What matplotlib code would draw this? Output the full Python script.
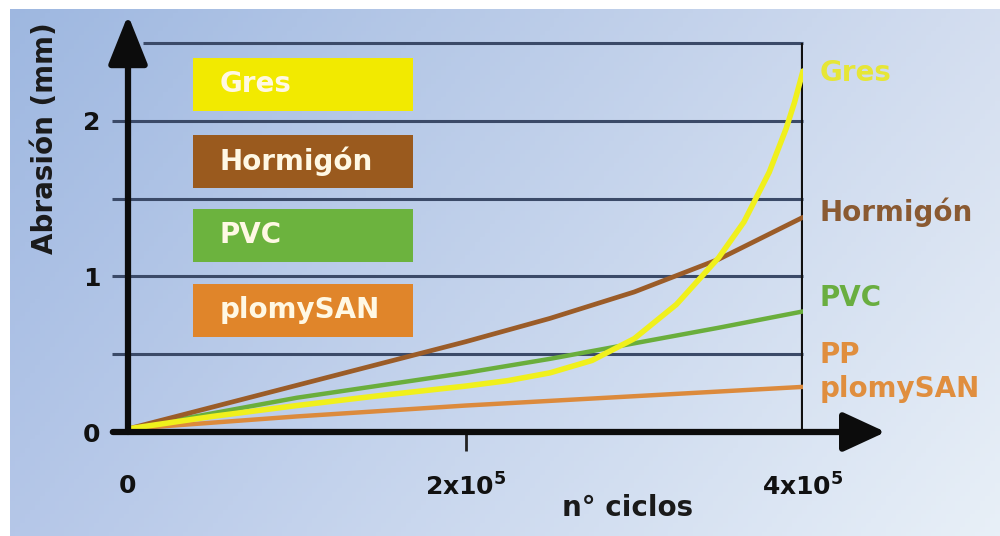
import numpy as np
import matplotlib
matplotlib.use("Agg")
import matplotlib.pyplot as plt
from matplotlib.patches import Rectangle

# x in units of 1e5 cycles, abrasion in mm
x_lin = [0, 0.5, 1.0, 1.5, 2.0, 2.5, 3.0, 3.5, 4.0]
hormigon = [0.02, 0.16, 0.30, 0.44, 0.58, 0.73, 0.90, 1.11, 1.38]
pvc = [0.02, 0.12, 0.22, 0.30, 0.38, 0.47, 0.57, 0.67, 0.775]
plomysan = [0.02, 0.06, 0.10, 0.135, 0.17, 0.20, 0.23, 0.26, 0.29]

x_gres = [0, 0.5, 1.0, 1.5, 2.0, 2.25, 2.5, 2.75, 3.0, 3.25, 3.5, 3.65, 3.8, 3.9, 3.95, 4.0]
gres = [0.02, 0.10, 0.17, 0.235, 0.295, 0.33, 0.38, 0.46, 0.60, 0.82, 1.12, 1.35, 1.67, 1.95, 2.12, 2.32]

names = ["Gres", "Hormigón", "PVC", "plomySAN"]
right_names = ["Gres", "Hormigón", "PVC", "PP\nplomySAN"]
box_colors = ["#f2ea00", "#9a5a1e", "#6cb33e", "#e0852a"]
line_colors = ["#f0f01c", "#9b5c28", "#6aae3c", "#dc8a3c"]
label_colors = ["#e6e636", "#8a5a32", "#6aae40", "#e08e3e"]

y_ticks = [0, 1, 2]
grid_levels = [0.5, 1.0, 1.5, 2.0]
x_ticks = [0, 2, 4]
x_ticklabels = ["0", "2x10$^{\\mathbf{5}}$", "4x10$^{\\mathbf{5}}$"]

W, H = 1000, 536
fig = plt.figure(figsize=(W / 100, H / 100), dpi=100)
fig.patch.set_facecolor("white")

# background gradient
bg = fig.add_axes([10 / W, 0, 1 - 10 / W, 1 - 9 / H], zorder=-5)
gx = np.linspace(0, 1, 200)
gy = np.linspace(0, 1, 120)
GX, GY = np.meshgrid(gx, gy)
tl = np.array([0.62, 0.72, 0.88])
tr = np.array([0.83, 0.87, 0.94])
bl = np.array([0.71, 0.78, 0.91])
br = np.array([0.91, 0.94, 0.97])
img = ((1 - GX)[..., None] * (1 - GY)[..., None] * tl + GX[..., None] * (1 - GY)[..., None] * tr
       + (1 - GX)[..., None] * GY[..., None] * bl + GX[..., None] * GY[..., None] * br)
bg.imshow(img, aspect="auto", extent=[0, 1, 0, 1], origin="upper")
bg.axis("off")

# main axes: x from px 128 to 803, y 0 at px 432, 2.5 at px 43
ax = fig.add_axes([128 / W, 1 - 432 / H, 675 / W, (432 - 43) / H])
ax.patch.set_alpha(0)
ax.set_xlim(0, 4)
ax.set_ylim(0, 2.5)
for s in ax.spines.values():
    s.set_visible(False)

grid_col = "#3b4a68"
ax.hlines(grid_levels, -0.095, 4, color=grid_col, lw=2.2, clip_on=False, zorder=1)
ax.hlines([2.5], 0.09, 4, color=grid_col, lw=2.2, clip_on=False, zorder=1)
ax.axvline(4, color="#101010", lw=3, zorder=2)

ax.plot(x_lin, plomysan, color=line_colors[3], lw=3.2, zorder=3, solid_capstyle="round")
ax.plot(x_lin, pvc, color=line_colors[2], lw=3.2, zorder=3, solid_capstyle="round")
ax.plot(x_lin, hormigon, color=line_colors[1], lw=3.4, zorder=3, solid_capstyle="round")
ax.plot(x_gres, gres, color=line_colors[0], lw=4, zorder=4, solid_capstyle="round",
        solid_joinstyle="round")

# axis arrows
ax.annotate("", xy=(0, 2.68), xytext=(0, 0), annotation_clip=False,
            arrowprops=dict(arrowstyle="-|>,head_length=1.5,head_width=0.6", lw=4.5,
                            color="#0c0c0c", shrinkA=0, shrinkB=0, mutation_scale=20), zorder=6)
ax.annotate("", xy=(4.49, 0), xytext=(-0.09, 0), annotation_clip=False,
            arrowprops=dict(arrowstyle="-|>,head_length=1.3,head_width=0.6", lw=4.5,
                            color="#0c0c0c", shrinkA=0, shrinkB=0, mutation_scale=20), zorder=6)

ax.set_yticks(y_ticks)
ax.set_yticklabels([str(v) for v in y_ticks], fontsize=18, fontweight="bold", color="#111111")
ax.tick_params(axis="y", length=0, pad=20)
ax.set_xticks(x_ticks)
ax.set_xticklabels(x_ticklabels, fontsize=18, fontweight="bold", color="#111111")
ax.tick_params(axis="x", length=14, width=2, color="#222222", direction="out", pad=16)
xt = ax.xaxis.get_major_ticks()
xt[0].tick1line.set_visible(False)
xt[2].tick1line.set_visible(False)

fig.text(628 / W, 1 - 508 / H, "n° ciclos", fontsize=20, fontweight="bold", color="#1a1a1a",
         ha="center", va="center")
fig.text(45 / W, 1 - 138 / H, "Abrasión (mm)", fontsize=20, fontweight="bold", color="#1a1a1a",
         rotation=90, ha="center", va="center")

# legend boxes
box_centers = [84, 161, 235, 310]
for name, col, yc in zip(names, box_colors, box_centers):
    fig.patches.append(Rectangle((193 / W, 1 - (yc + 26.5) / H), 220 / W, 53 / H,
                                 transform=fig.transFigure, facecolor=col, edgecolor="none", zorder=2))
    fig.text(220 / W, 1 - yc / H, name, fontsize=20, fontweight="bold", color="#fff8e4",
             ha="left", va="center", zorder=3)

# right labels
right_y = [73, 212, 298, 372]
for name, col, yc in zip(right_names, label_colors, right_y):
    fig.text(820 / W, 1 - yc / H, name, fontsize=20, fontweight="bold", color=col,
             ha="left", va="center", linespacing=1.3)

fig.savefig("out.png", dpi=100)
